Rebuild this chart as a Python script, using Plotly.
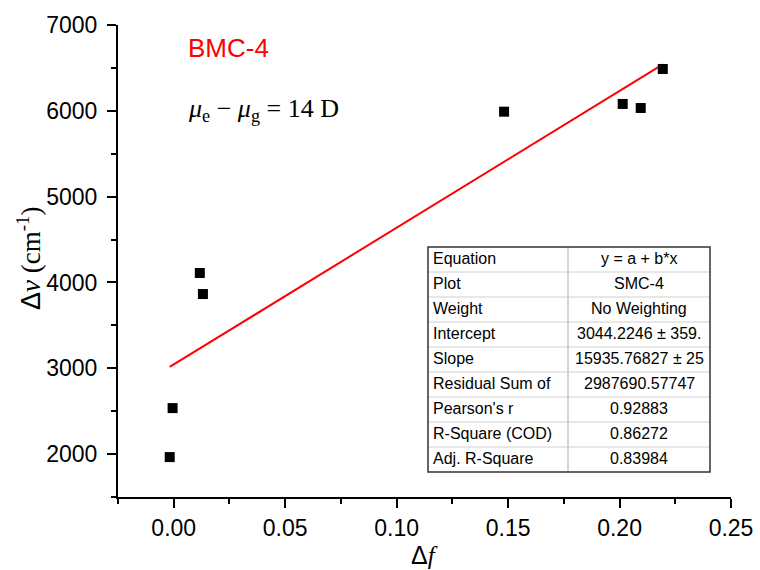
import plotly.graph_objects as go
import numpy as np

# Measured points
delta_f = [-0.0018, -0.0005, 0.0117, 0.0131, 0.1482, 0.2014, 0.2095, 0.2194]
delta_nu = [1965, 2536, 4110, 3865, 5990, 6080, 6033, 6487]

# Linear fit parameters
intercept = 3044.2246
slope = 15935.76827

# Fit summary table
table_keys = ["Equation", "Plot", "Weight", "Intercept", "Slope",
              "Residual Sum of", "Pearson's r", "R-Square (COD)", "Adj. R-Square"]
table_vals = ["y = a + b*x", "SMC-4", "No Weighting", "3044.2246 ± 359.",
              "15935.76827 ± 25", "2987690.57747", "0.92883", "0.86272", "0.83984"]

x_ticks = [0.00, 0.05, 0.10, 0.15, 0.20, 0.25]
y_ticks = [2000, 3000, 4000, 5000, 6000, 7000]

W, H = 760, 570
L, R, T, B = 118, 29, 25, 73
PW, PH = W - L - R, H - T - B


def px(xpix):
    return (xpix - L) / PW


def py(ypix):
    return (H - B - ypix) / PH


fig = go.Figure()

fx = np.array([min(delta_f), max(delta_f)])
fig.add_trace(go.Scatter(x=fx, y=intercept + slope * fx, mode="lines",
                         line=dict(color="#ff0000", width=2), showlegend=False))
fig.add_trace(go.Scatter(x=delta_f, y=delta_nu, mode="markers",
                         marker=dict(symbol="square", size=10, color="black",
                                     line=dict(width=0)),
                         showlegend=False))

axis_common = dict(showline=True, linecolor="black", linewidth=2,
                   ticks="outside", ticklen=9, tickwidth=2, tickcolor="black",
                   showgrid=False, zeroline=False, mirror=False, automargin=False,
                   tickfont=dict(family="Liberation Sans, Arial", size=23, color="black"))

fig.update_xaxes(range=[-0.025, 0.25], tickvals=x_ticks,
                 ticktext=[f"{v:.2f}" for v in x_ticks],
                 minor=dict(dtick=0.025, tick0=0, ticks="outside", ticklen=5,
                            tickwidth=1.5, tickcolor="black"),
                 ticklabelstandoff=0,
                 **axis_common)
fig.update_yaxes(range=[1500, 7000], tickvals=y_ticks,
                 minor=dict(dtick=500, tick0=0, ticks="outside", ticklen=5,
                            tickwidth=1.5, tickcolor="black"),
                 ticklabelstandoff=5,
                 **axis_common)

shapes = []
annotations = []

# Table geometry
tx0, tx1, tmid = 428, 710, 568
ty0 = 247
rh = 25
n = len(table_keys)
ty1 = ty0 + rh * n

for k in range(1, n):
    yy = py(ty0 + k * rh)
    shapes.append(dict(type="line", xref="paper", yref="paper",
                       x0=px(tx0), x1=px(tx1), y0=yy, y1=yy,
                       line=dict(color="#d0d0d0", width=1)))
shapes.append(dict(type="line", xref="paper", yref="paper",
                   x0=px(tmid), x1=px(tmid), y0=py(ty0), y1=py(ty1),
                   line=dict(color="#c8c8c8", width=1.5)))
shapes.append(dict(type="rect", xref="paper", yref="paper",
                   x0=px(tx0), x1=px(tx1), y0=py(ty1), y1=py(ty0),
                   line=dict(color="#333333", width=1.5)))

for i, (k, v) in enumerate(zip(table_keys, table_vals)):
    yc = py(ty0 + i * rh + rh / 2 - 1)
    annotations.append(dict(xref="paper", yref="paper", x=px(tx0 + 3), y=yc,
                            text=k, showarrow=False, xanchor="left", yanchor="middle",
                            font=dict(family="Liberation Sans, Arial", size=16, color="black")))
    annotations.append(dict(xref="paper", yref="paper", x=px((tmid + tx1) / 2), y=yc,
                            text=v, showarrow=False, xanchor="center", yanchor="middle",
                            font=dict(family="Liberation Sans, Arial", size=16, color="black")))

annotations.append(dict(xref="paper", yref="paper", x=px(186), y=py(48),
                        text="BMC-4", showarrow=False, xanchor="left", yanchor="middle",
                        font=dict(family="Liberation Sans, Arial", size=26, color="#ff0000")))
annotations.append(dict(xref="paper", yref="paper", x=px(186), y=py(110),
                        text="<i>μ</i><sub>e</sub> − <i>μ</i><sub>g</sub> = 14 D",
                        showarrow=False, xanchor="left", yanchor="middle",
                        font=dict(family="Liberation Serif, Times New Roman", size=26, color="black")))

# Axis titles
annotations.append(dict(xref="paper", yref="paper", x=px(425), y=py(555),
                        text="<span style='font-family:Liberation Sans'>Δ</span><i>f</i>",
                        showarrow=False, xanchor="center", yanchor="middle",
                        font=dict(family="Liberation Serif, Times New Roman", size=25, color="black")))
annotations.append(dict(xref="paper", yref="paper", x=px(29), y=py(258),
                        text="<span style='font-family:Liberation Sans'>Δ</span><i>ν</i> (cm<sup>-1</sup>)",
                        showarrow=False, xanchor="center", yanchor="middle", textangle=-90,
                        font=dict(family="Liberation Serif, Times New Roman", size=27, color="black")))

fig.update_layout(width=W, height=H, margin=dict(l=L, r=R, t=T, b=B, autoexpand=False),
                  paper_bgcolor="white", plot_bgcolor="white",
                  shapes=shapes, annotations=annotations)

fig.write_html("out.html")
